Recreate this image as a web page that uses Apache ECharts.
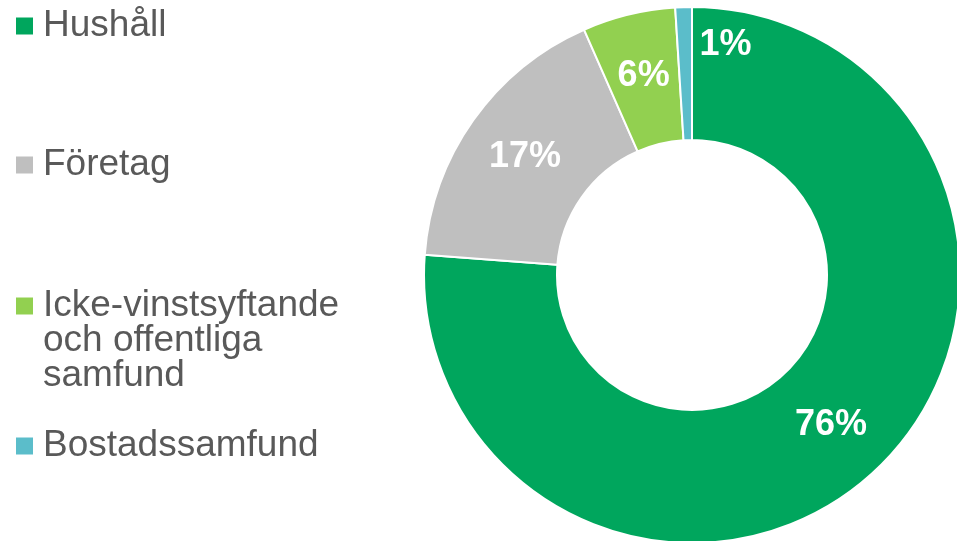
<!DOCTYPE html>
<html>
<head>
<meta charset="utf-8">
<script src="https://cdn.jsdelivr.net/npm/echarts@6/dist/echarts.min.js"></script>
<style>
  html, body { margin: 0; padding: 0; background: #fff; }
  #main { width: 957px; height: 541px; }
</style>
</head>
<body>
<div id="main"></div>
<script>
// andelar, läst från bilden (procent)
const categories = ['Hushåll', 'Företag', 'Icke-vinstsyftande', 'Bostadssamfund'];
const legendNames = ['Hushåll', 'Företag', 'Icke-vinstsyftande\noch offentliga\nsamfund', 'Bostadssamfund'];
const values = [76.2, 17.2, 5.6, 1.0];
const colors = ['#00a65d', '#bfbfbf', '#92d050', '#5bbdca'];

const font = 'Arial, "Liberation Sans", sans-serif';
const lineH = 35;
const iconMid = [25, 164, 305, 445];

function legendFor(i) {
    // flerradig text: tomma rader före så att ikonen hamnar vid första raden
    let lines = legendNames[i].split('\n').length;
    let txt = lines > 1 ? '\n'.repeat(lines - 1) + legendNames[i] : legendNames[i];
    let total = lines > 1 ? 2 * lines - 1 : 1;
    return {
        left: 16,
        top: iconMid[i] - total * lineH / 2,
        padding: 0,
        orient: 'vertical',
        selectedMode: false,
        icon: 'rect',
        itemWidth: 17,
        itemHeight: 17,
        itemStyle: { borderWidth: 0 },
        data: [categories[i]],
        formatter: () => txt,
        textStyle: {
            fontFamily: font,
            fontSize: 37,
            lineHeight: lineH,
            color: '#595959',
            padding: [0, 0, 0, 5]
        }
    };
}

const option = {
    animation: false,
    color: colors,
    legend: [0, 1, 2, 3].map(legendFor),
    series: [{
        type: 'pie',
        center: [692, 275],
        radius: [135, 268],
        startAngle: 90,
        clockwise: true,
        silent: true,
        itemStyle: { borderColor: '#fff', borderWidth: 2 },
        label: {
            show: true,
            position: 'inside',
            color: '#fff',
            fontFamily: font,
            fontWeight: 'bold',
            fontSize: 36,
            formatter: p => Math.round(p.value) + '%'
        },
        labelLine: { show: false },
        data: categories.map((c, i) => {
            let d = { name: c, value: values[i] };
            if (i === 3) d.label = { offset: [40, -26] };
            return d;
        })
    }]
};

echarts.init(document.getElementById('main')).setOption(option);
</script>
</body>
</html>
